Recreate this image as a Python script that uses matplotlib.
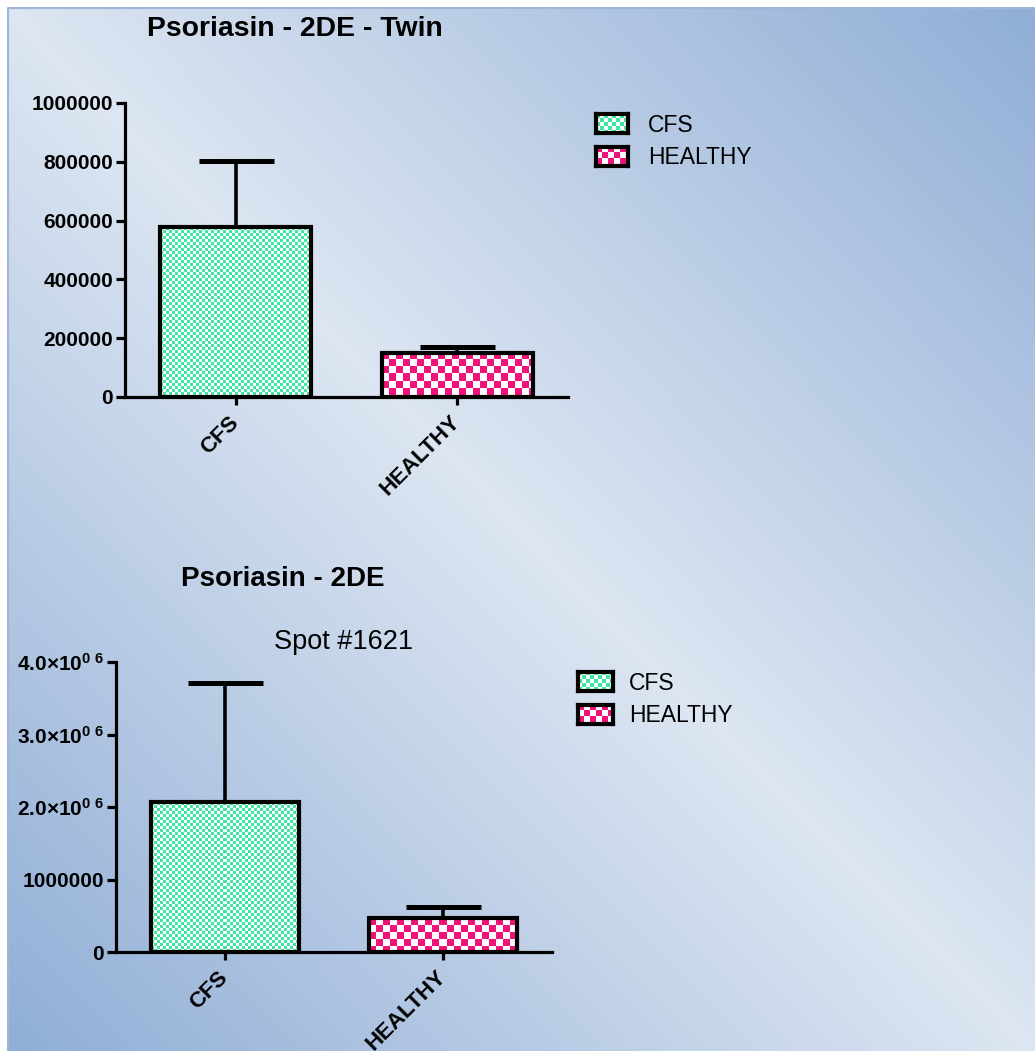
import numpy as np
import matplotlib
matplotlib.use("Agg")
import matplotlib.pyplot as plt
from matplotlib.colors import to_rgb

plt.rcParams['font.family'] = ['Liberation Sans', 'DejaVu Sans']
plt.rcParams['mathtext.fontset'] = 'custom'
plt.rcParams['mathtext.rm'] = 'Liberation Sans:bold'
plt.rcParams['mathtext.it'] = 'Liberation Sans:bold'
plt.rcParams['mathtext.bf'] = 'Liberation Sans:bold'

# ---- data ----
groups = ['CFS', 'HEALTHY']

twin_means = [578000, 150000]
twin_err_up = [225000, 20000]
twin_yticks = [0, 200000, 400000, 600000, 800000, 1000000]
twin_yticklabels = ['0', '200000', '400000', '600000', '800000', '1000000']

spot_means = [2066000, 468000]
spot_err_up = [1640000, 152000]
spot_yticks = [0, 1000000, 2000000, 3000000, 4000000]
spot_yticklabels = ['0', '1000000', '2.0×10$^{0\\ 6}$', '3.0×10$^{0\\ 6}$', '4.0×10$^{0\\ 6}$']

# ---- style ----
W, H = 1035, 1051
DPI = 100
fill_colors = ['#3fe8a2', '#f0147a']
cell_px = [3, 7]
swatch_cell_px = [4, 6]
LIGHT = np.array(to_rgb('#dde6f2'))
DARK = np.array(to_rgb('#90aed6'))

fig = plt.figure(figsize=(W / DPI, H / DPI), dpi=DPI, facecolor='white')


def px_rect(x0, y0, x1, y1):
    """Figure rectangle from pixel coords (origin top-left)."""
    return [x0 / W, 1 - y1 / H, (x1 - x0) / W, (y1 - y0) / H]


# background gradient panel
bx0, by0 = 8, 8
bg = fig.add_axes(px_rect(bx0, by0, W, H))
bg.set_zorder(-10)
gw, gh = W - bx0, H - by0
yy, xx = np.mgrid[0:gh, 0:gw]
t = np.abs(xx / gw - yy / gh)
grad = LIGHT[None, None, :] * (1 - t[..., None]) + DARK[None, None, :] * t[..., None]
bg.imshow(grad, aspect='auto', interpolation='bilinear', extent=[0, 1, 0, 1])
bg.set_xlim(0, 1)
bg.set_ylim(0, 1)
bg.axis('off')
bg.plot([0, 0, 1], [0, 1, 1], color='#9fb6d9', lw=1.5, transform=bg.transAxes, clip_on=False)


def checker(h, w, cell, color):
    yy, xx = np.mgrid[0:h, 0:w]
    m = ((yy // cell) + (xx // cell)) % 2 == 0
    c = np.array(to_rgb(color))
    img = np.ones((h, w, 3))
    img[m] = c
    return img


def bar_panel(rect, means, err_up, yticks, yticklabels, ymax):
    ax = fig.add_axes(px_rect(*rect))
    ax.patch.set_alpha(0)
    x = np.arange(len(groups))
    ax.set_xlim(-0.5, 1.5)
    ax.set_ylim(0, ymax)
    bars = ax.bar(x, means, width=0.68, facecolor='none', edgecolor='black',
                  linewidth=3.0, zorder=4)
    _, caps, _ = ax.errorbar(x, means, yerr=[[0] * len(means), err_up], fmt='none',
                             ecolor='black', elinewidth=2.6, capsize=27,
                             capthick=3.6, zorder=3)
    caps[0].set_visible(False)  # upper error only
    # checkerboard fills
    for b, col, cell in zip(bars, fill_colors, cell_px):
        x0, y0 = b.get_x(), b.get_y()
        w, h = b.get_width(), b.get_height()
        p0 = ax.transData.transform((x0, y0))
        p1 = ax.transData.transform((x0 + w, y0 + h))
        wp = int(round(abs(p1[0] - p0[0])))
        hp = int(round(abs(p1[1] - p0[1])))
        ax.imshow(checker(hp, wp, cell, col), extent=[x0, x0 + w, y0, y0 + h],
                  aspect='auto', interpolation='nearest', zorder=2)
    ax.set_xlim(-0.5, 1.5)
    ax.set_ylim(0, ymax)
    for s in ['top', 'right']:
        ax.spines[s].set_visible(False)
    for s in ['left', 'bottom']:
        ax.spines[s].set_linewidth(2.3)
    ax.set_yticks(yticks)
    ax.set_yticklabels(yticklabels, fontsize=15, fontweight='bold')
    ax.set_xticks(x)
    ax.set_xticklabels(groups, fontsize=16, fontweight='bold', rotation=45,
                       ha='right', va='center', rotation_mode='anchor')
    ax.tick_params(axis='y', length=6.5, width=2.3, pad=2)
    ax.tick_params(axis='x', length=6, width=2.3, pad=10)
    return ax


def legend(x0, ys, sw, sh, text_x):
    for yc, col, cell, name in zip(ys, fill_colors, swatch_cell_px, groups):
        sax = fig.add_axes(px_rect(x0, yc - sh / 2, x0 + sw, yc + sh / 2))
        sax.imshow(checker(sh, sw, cell, col), aspect='auto', interpolation='nearest')
        sax.set_xticks([])
        sax.set_yticks([])
        for sp in sax.spines.values():
            sp.set_linewidth(3.0)
        fig.text(text_x / W, 1 - (yc + 2) / H, name, fontsize=16.5, ha='left', va='center')


# upper chart
bar_panel((125, 103, 568, 397), twin_means, twin_err_up, twin_yticks,
          twin_yticklabels, 1000000)
fig.text(295 / W, 1 - 29 / H, 'Psoriasin - 2DE - Twin', fontsize=20.4,
         fontweight='bold', ha='center', va='center')
legend(596, [123, 156], 32, 19, 648)

# lower chart
bar_panel((116, 662, 552, 952), spot_means, spot_err_up, spot_yticks,
          spot_yticklabels, 4000000)
fig.text(283 / W, 1 - 579 / H, 'Psoriasin - 2DE', fontsize=20,
         fontweight='bold', ha='center', va='center')
fig.text(344 / W, 1 - 642 / H, 'Spot #1621', fontsize=19.5, ha='center', va='center')
legend(578, [681, 714], 35, 19, 629)

fig.savefig('out.png', dpi=DPI, facecolor='white')
